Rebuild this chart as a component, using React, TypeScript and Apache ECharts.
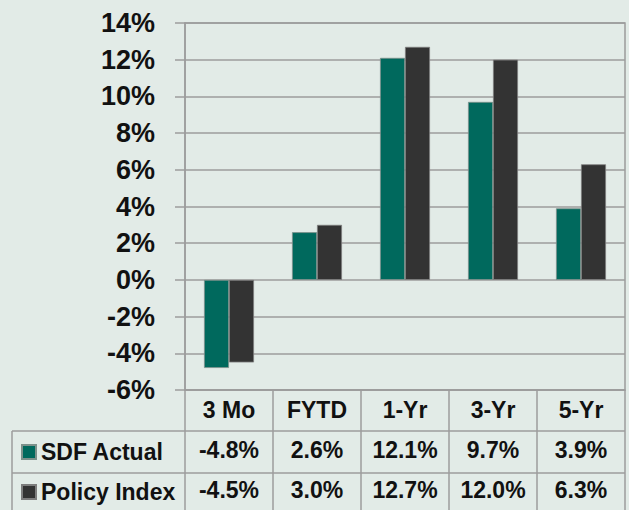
import React, { useEffect, useRef } from "react";
import * as echarts from "echarts";

const categories = ["3 Mo", "FYTD", "1-Yr", "3-Yr", "5-Yr"];
const sdfActual = [-4.8, 2.6, 12.1, 9.7, 3.9];
const policyIndex = [-4.5, 3.0, 12.7, 12.0, 6.3];
const seriesNames = ["SDF Actual", "Policy Index"];
const yMin = -6;
const yMax = 14;
const yInterval = 2;

const BG = "#e2ebe7";
const GRID = "#9c9c9c";
const TEAL = "#00695d";
const DARK = "#333333";
const FONT = "'Liberation Sans', Arial, sans-serif";

export default function App() {
  const ref = useRef<HTMLDivElement>(null);
  useEffect(() => {
    document.body.style.margin = "0";
    const chart = echarts.init(ref.current!, null, { renderer: "svg" });
    const W = 629;
    const plotLeft = 185;
    const plotRight = 625;
    const plotTop = 23;
    const plotBottom = 393;
    const row1 = 431;
    const row2 = 473;
    const fmt = (v: number) => v.toFixed(1) + "%";
    chart.setOption({
      animation: false,
      backgroundColor: BG,
      textStyle: { fontFamily: FONT },
      grid: {
        left: plotLeft,
        right: W - plotRight,
        top: plotTop,
        bottom: 510 - plotBottom,
        show: true,
        borderColor: GRID,
        borderWidth: 1.5,
        backgroundColor: "transparent",
      },
      legend: {
        data: seriesNames,
        orient: "vertical",
        left: 21,
        top: 439,
        padding: 0,
        itemWidth: 14,
        itemHeight: 14,
        itemGap: 14,
        icon: "rect",
        textStyle: {
          fontSize: 23,
          fontWeight: "bold",
          color: "#111",
          fontFamily: FONT,
          lineHeight: 26,
        },
      },
      xAxis: {
        type: "category",
        data: categories,
        axisLine: { onZero: false, lineStyle: { color: GRID, width: 1.5 } },
        axisTick: { show: true, length: 130, lineStyle: { color: GRID, width: 1.5 } },
        axisLabel: {
          margin: 0,
          interval: 0,
          color: "#111",
          fontSize: 23,
          fontWeight: "bold",
          fontFamily: FONT,
          lineHeight: 40,
          formatter: (value: string, idx: number) =>
            value + "\n" + fmt(sdfActual[idx]) + "\n" + fmt(policyIndex[idx]),
        },
      },
      yAxis: {
        type: "value",
        min: yMin,
        max: yMax,
        interval: yInterval,
        axisLine: { show: true, lineStyle: { color: GRID, width: 1.5 } },
        axisTick: { show: true, length: 10, lineStyle: { color: GRID, width: 1.5 } },
        splitLine: { show: true, lineStyle: { color: GRID, width: 1.5 } },
        axisLabel: {
          margin: 30,
          color: "#111",
          fontSize: 27,
          fontWeight: "bold",
          fontFamily: FONT,
          formatter: "{value}%",
        },
      },
      series: [
        {
          name: seriesNames[0],
          type: "bar",
          data: sdfActual,
          barWidth: 25,
          barGap: "0%",
          itemStyle: { color: TEAL, borderColor: "#7d918b", borderWidth: 0.8 },
        },
        {
          name: seriesNames[1],
          type: "bar",
          data: policyIndex,
          barWidth: 25,
          barGap: "0%",
          itemStyle: { color: DARK, borderColor: "#7d7d7d", borderWidth: 0.8 },
        },
      ],
      graphic: [
        {
          type: "line",
          shape: { x1: 12, y1: row1, x2: plotRight, y2: row1 },
          style: { stroke: GRID, lineWidth: 1.5 },
        },
        {
          type: "line",
          shape: { x1: 12, y1: row2, x2: plotRight, y2: row2 },
          style: { stroke: GRID, lineWidth: 1.5 },
        },
        {
          type: "line",
          shape: { x1: 12, y1: row1, x2: 12, y2: 512 },
          style: { stroke: GRID, lineWidth: 1.5 },
        },
      ],
    });
    return () => chart.dispose();
  }, []);
  return <div ref={ref} style={{ width: 629, height: 510 }} />;
}
